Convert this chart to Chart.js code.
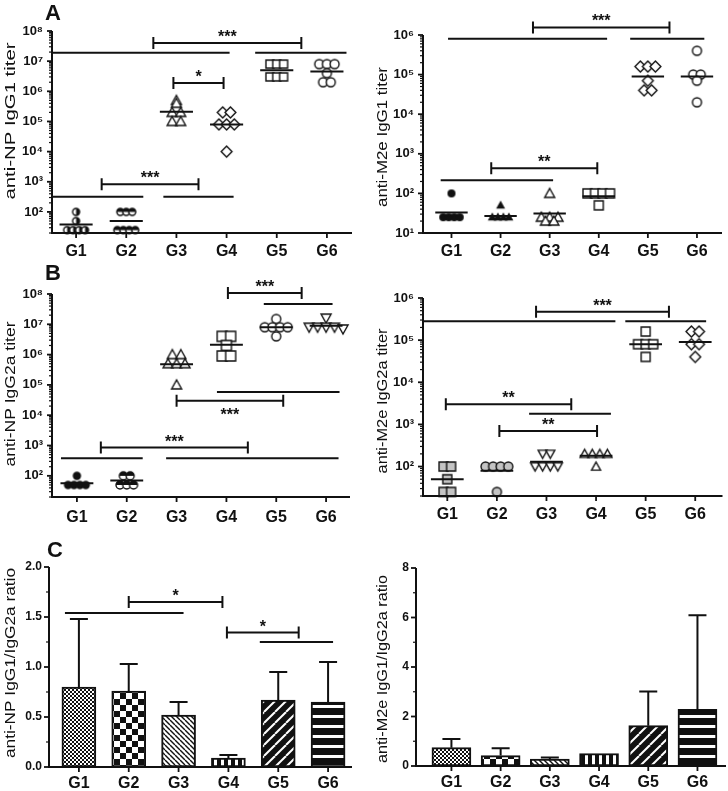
<!DOCTYPE html>
<html>
<head>
<meta charset="utf-8">
<script src="https://cdn.jsdelivr.net/npm/chart.js@4.4.1/dist/chart.umd.min.js"></script>
<style>
  body { margin: 0; background: #fff; }
  #fig { position: relative; width: 728px; height: 791px; }
  #fig canvas { position: absolute; }
</style>
</head>
<body>
<div id="fig"></div>
<script>
const groups = ['G1', 'G2', 'G3', 'G4', 'G5', 'G6'];

// A: IgG1 titers, one array per group, plus the group line
const npIgG1 = [
  [100, 50, 25, 25, 25, 25],
  [100, 100, 100, 25, 25, 25, 25],
  [500000, 400000, 200000, 200000, 100000, 100000],
  [200000, 200000, 80000, 80000, 80000, 10000],
  [8000000, 8000000, 8000000, 3000000, 3000000, 3000000],
  [8000000, 8000000, 8000000, 4000000, 2000000, 2000000]
];
const npIgG1Mean = [38, 50, 210000, 80000, 5000000, 4500000];

const m2eIgG1 = [
  [100, 25, 25, 25, 25],
  [50, 25, 25, 25, 25],
  [100, 25, 25, 25, 20, 20],
  [100, 100, 100, 100, 50],
  [160000, 160000, 160000, 70000, 40000, 40000],
  [400000, 100000, 100000, 70000, 20000]
];
const m2eIgG1Mean = [33, 27, 31, 85, 90000, 90000];

// B: IgG2a titers
const npIgG2a = [
  [100, 50, 50, 50, 50],
  [100, 100, 50, 50, 50],
  [1000000, 1000000, 500000, 500000, 500000, 100000],
  [4000000, 4000000, 2000000, 900000, 900000],
  [15000000, 8000000, 8000000, 8000000, 8000000, 4000000],
  [16000000, 8000000, 8000000, 8000000, 8000000, 7000000]
];
const npIgG2aMean = [57, 70, 480000, 2100000, 8000000, 9000000];

const m2eIgG2a = [
  [100, 100, 50, 25, 25],
  [100, 100, 100, 100, 25],
  [200, 200, 100, 100, 100, 100],
  [200, 200, 200, 200, 100],
  [160000, 80000, 80000, 80000, 40000],
  [160000, 160000, 80000, 80000, 40000]
];
const m2eIgG2aMean = [50, 80, 130, 180, 80000, 90000];

// C: IgG1/IgG2a ratio, bar height and top of the error bar
const npRatio = [0.80, 0.76, 0.52, 0.09, 0.67, 0.65];
const npRatioUpper = [1.48, 1.03, 0.65, 0.12, 0.95, 1.05];
const m2eRatio = [0.74, 0.42, 0.28, 0.50, 1.63, 2.29];
const m2eRatioUpper = [1.09, 0.72, 0.34, 0.50, 3.01, 6.09];

// significance marks: x in group units, y in axis units
const npIgG1Sig = [
  { x1: 1.54, x2: 4.49, y: 4e7, label: '***' },
  { x1: -0.48, x2: 3.06, y: 1.9e7 },
  { x1: 3.57, x2: 5.39, y: 1.9e7 },
  { x1: 1.94, x2: 2.94, y: 1.9e6, label: '*' },
  { x1: 0.51, x2: 2.44, y: 830, label: '***' },
  { x1: -0.48, x2: 1.34, y: 316 },
  { x1: 1.74, x2: 3.14, y: 316 }
];
const m2eIgG1Sig = [
  { x1: 1.66, x2: 4.44, y: 1.55e6, label: '***' },
  { x1: -0.07, x2: 3.17, y: 8e5 },
  { x1: 3.64, x2: 5.15, y: 8e5 },
  { x1: 0.81, x2: 2.97, y: 430, label: '**' },
  { x1: -0.22, x2: 2.07, y: 215 }
];
const npIgG2aSig = [
  { x1: 3.03, x2: 4.51, y: 1.07e8, label: '***' },
  { x1: 3.75, x2: 5.13, y: 4.7e7 },
  { x1: 2.0, x2: 4.14, y: 3e4, label: '***', below: true },
  { x1: 2.81, x2: 5.27, y: 5.8e4 },
  { x1: 0.48, x2: 3.43, y: 855, label: '***' },
  { x1: -0.32, x2: 1.32, y: 380 },
  { x1: 1.79, x2: 5.25, y: 380 }
];
const m2eIgG2aSig = [
  { x1: 1.79, x2: 4.47, y: 4.7e5, label: '***' },
  { x1: -0.48, x2: 3.39, y: 2.8e5 },
  { x1: 3.59, x2: 5.22, y: 2.8e5 },
  { x1: -0.03, x2: 2.5, y: 3000, label: '**' },
  { x1: 1.65, x2: 3.3, y: 1800 },
  { x1: 1.05, x2: 3.02, y: 700, label: '**' }
];
const npRatioSig = [
  { x1: 1.0, x2: 2.88, y: 1.65, label: '*' },
  { x1: -0.28, x2: 2.1, y: 1.54 },
  { x1: 2.97, x2: 4.41, y: 1.345, label: '*' },
  { x1: 3.63, x2: 5.1, y: 1.25 }
];

const logTickLabels = ['10⁰', '10¹', '10²', '10³', '10⁴', '10⁵', '10⁶', '10⁷', '10⁸'];

const family = '"Liberation Sans", Arial, Helvetica, sans-serif';
const ink = '#111';

// marker pictures for each group: shape, fill, radius
const markA1 = [['circle', 'halfRight', 3.5], ['circle', 'halfTop', 3.5], ['triangle', 'white', 5], ['diamond', 'white', 4.5], ['square', 'white', 4], ['circle', 'white', 4.5]];
const markA2 = [['circle', 'black', 3.3], ['triangle', 'black', 3.3], ['triangle', 'white', 5], ['square', 'white', 4.5], ['diamond', 'white', 4.5], ['circle', 'white', 4.5]];
const markB1 = [['circle', 'black', 3.5], ['circle', 'halfTop', 4], ['triangle', 'white', 5], ['square', 'white', 5], ['circle', 'white', 4.5], ['triangleDown', 'white', 5]];
const markB2 = [['square', 'gray', 4.5], ['circle', 'gray', 4.5], ['triangleDown', 'white', 4.5], ['triangle', 'white', 4.5], ['square', 'white', 4.5], ['diamond', 'white', 4.5]];

function makeMarker(shape, fill, r) {
  const s = Math.ceil(r * 2.4 + 4);
  const c = document.createElement('canvas');
  c.width = c.height = s;
  const g = c.getContext('2d');
  const m = s / 2;
  const path = () => {
    g.beginPath();
    if (shape === 'circle') g.arc(m, m, r, 0, Math.PI * 2);
    else if (shape === 'square') g.rect(m - r, m - r, 2 * r, 2 * r);
    else if (shape === 'diamond') {
      g.moveTo(m, m - r * 1.2); g.lineTo(m + r * 1.2, m); g.lineTo(m, m + r * 1.2); g.lineTo(m - r * 1.2, m); g.closePath();
    } else if (shape === 'triangle') {
      g.moveTo(m, m - r); g.lineTo(m + r, m + r * 0.8); g.lineTo(m - r, m + r * 0.8); g.closePath();
    } else {
      g.moveTo(m, m + r); g.lineTo(m + r, m - r * 0.8); g.lineTo(m - r, m - r * 0.8); g.closePath();
    }
  };
  path();
  g.fillStyle = fill === 'black' ? ink : fill === 'gray' ? '#c4c4c4' : '#fff';
  g.fill();
  if (fill === 'halfRight' || fill === 'halfTop') {
    g.save();
    g.clip();
    g.fillStyle = ink;
    if (fill === 'halfRight') g.fillRect(m, 0, s, s);
    else g.fillRect(0, 0, s, m);
    g.restore();
  }
  path();
  g.lineWidth = 1.4;
  g.strokeStyle = ink;
  g.stroke();
  return c;
}

function makePattern(kind) {
  const t = { mesh: 4, checker: 12, backslash: 5, vstripe: 7, slash: 11, hstripe: 10 }[kind];
  const c = document.createElement('canvas');
  c.width = c.height = t;
  const g = c.getContext('2d');
  g.fillStyle = '#fff';
  g.fillRect(0, 0, t, t);
  g.fillStyle = ink;
  g.strokeStyle = ink;
  if (kind === 'mesh') { g.fillRect(0, 0, 2, 2); g.fillRect(2, 2, 2, 2); }
  if (kind === 'checker') { g.fillRect(0, 0, 6, 6); g.fillRect(6, 6, 6, 6); }
  if (kind === 'vstripe') g.fillRect(0, 0, 4, t);
  if (kind === 'hstripe') g.fillRect(0, 3, t, 7);
  if (kind === 'backslash') {
    g.lineWidth = 1.4;
    [-t, 0, t].forEach(o => { g.beginPath(); g.moveTo(o, 0); g.lineTo(o + t, t); g.stroke(); });
  }
  if (kind === 'slash') {
    g.fillRect(0, 0, t, t);
    g.strokeStyle = '#fff';
    g.lineWidth = 2;
    [-t, 0, t].forEach(o => { g.beginPath(); g.moveTo(o, t); g.lineTo(o + t, 0); g.stroke(); });
  }
  return g.createPattern(c, 'repeat');
}
const barPatterns = ['mesh', 'checker', 'backslash', 'vstripe', 'slash', 'hstripe'].map(makePattern);

// points of equal titer sit side by side around the group centre
function spread(vals, i, r) {
  const rows = [];
  vals.slice().sort((a, b) => b - a).forEach(v => {
    const row = rows.find(rw => Math.abs(Math.log10(rw[0]) - Math.log10(v)) < 0.08);
    row ? row.push(v) : rows.push([v]);
  });
  const step = r * 1.7 / 50;
  const pts = [];
  rows.forEach(rw => rw.forEach((v, k) => pts.push({ x: i + (k - (rw.length - 1) / 2) * step, y: v })));
  return pts;
}

function addCanvas(box) {
  const cv = document.createElement('canvas');
  cv.width = box.w;
  cv.height = box.h;
  cv.style.left = box.x + 'px';
  cv.style.top = box.y + 'px';
  document.getElementById('fig').appendChild(cv);
  return cv;
}

const isDecade = v => Math.abs(Math.log10(v) - Math.round(Math.log10(v))) < 1e-6;

function logTicks(min, max) {
  const out = [];
  for (let e = Math.floor(Math.log10(min)); e <= Math.ceil(Math.log10(max)); e++) {
    for (let m = 1; m < 10; m++) {
      const v = m * Math.pow(10, e);
      if (v >= min * 0.999 && v <= max * 1.001) out.push({ value: v });
    }
  }
  return out;
}

function xAxis(p) {
  return {
    type: 'linear', min: p.xRange[0], max: p.xRange[1], offset: false,
    grid: { display: false, drawTicks: false }, border: { display: false },
    afterBuildTicks: s => { s.ticks = groups.map((g, i) => ({ value: i })); },
    ticks: {
      autoSkip: false, maxRotation: 0, padding: p.xPad, color: ink,
      font: { family, size: 16, weight: 'bold' },
      callback: v => groups[v]
    },
    afterFit: s => { s.height = p.box.y + p.box.h - p.area.bottom; }
  };
}

function yAxis(p) {
  const y = {
    min: p.yRange[0], max: p.yRange[1],
    grid: { display: false, drawTicks: false }, border: { display: false },
    ticks: { autoSkip: false, padding: p.yPad, color: ink, font: { family, size: 13, weight: 'bold' } },
    afterFit: s => { s.width = p.area.left - p.box.x; }
  };
  if (p.log) {
    y.type = 'logarithmic';
    y.afterBuildTicks = s => { s.ticks = logTicks(p.yRange[0], p.yRange[1]); };
    y.ticks.callback = v => isDecade(v) ? logTickLabels[Math.round(Math.log10(v))] : '';
  } else {
    y.type = 'linear';
    y.ticks.stepSize = p.yStep;
    y.ticks.font.size = 12;
    y.ticks.callback = v => Math.abs(v / p.yLabelStep - Math.round(v / p.yLabelStep)) < 1e-6 ? v.toFixed(p.yDigits) : '';
  }
  return y;
}

function baseOptions(p) {
  return {
    responsive: false, animation: false, events: [],
    layout: { padding: { left: 0, top: p.area.top - p.box.y, right: p.box.x + p.box.w - p.area.right, bottom: 0 } },
    plugins: { legend: { display: false }, tooltip: { enabled: false } },
    scales: { x: xAxis(p), y: yAxis(p) }
  };
}

// axes, brackets, error bars, titles
function figurePlugin(p) {
  return {
    id: 'figure',
    afterDatasetsDraw(chart) {
      if (!p.upper) return;
      const ctx = chart.ctx, ys = chart.scales.y;
      ctx.save();
      ctx.strokeStyle = ink;
      ctx.lineWidth = 2;
      chart.getDatasetMeta(0).data.forEach((bar, i) => {
        if (p.upper[i] <= p.bars[i]) return;
        const top = ys.getPixelForValue(p.upper[i]);
        ctx.beginPath();
        ctx.moveTo(bar.x, bar.y); ctx.lineTo(bar.x, top);
        ctx.moveTo(bar.x - 9, top); ctx.lineTo(bar.x + 9, top);
        ctx.stroke();
      });
      ctx.restore();
    },
    afterDraw(chart) {
      const ctx = chart.ctx, a = chart.chartArea, xs = chart.scales.x, ys = chart.scales.y;
      ctx.save();
      ctx.strokeStyle = ink;
      ctx.fillStyle = ink;
      ctx.lineWidth = 2;
      ctx.beginPath();
      ctx.moveTo(a.left, a.top); ctx.lineTo(a.left, a.bottom); ctx.lineTo(a.right, a.bottom);
      ctx.stroke();

      ys.ticks.forEach(t => {
        const py = ys.getPixelForValue(t.value);
        const major = t.label !== '';
        ctx.lineWidth = major ? 1.8 : 1.2;
        ctx.beginPath();
        ctx.moveTo(a.left, py); ctx.lineTo(a.left - (major ? 5 : 3), py);
        ctx.stroke();
      });
      ctx.lineWidth = 1.8;
      xs.ticks.forEach(t => {
        const px = xs.getPixelForValue(t.value);
        ctx.beginPath();
        ctx.moveTo(px, a.bottom); ctx.lineTo(px, a.bottom + 5);
        ctx.stroke();
      });

      ctx.lineWidth = 2;
      ctx.textAlign = 'center';
      ctx.textBaseline = 'alphabetic';
      ctx.font = 'bold 16px ' + family;
      (p.sig || []).forEach(s => {
        const x1 = xs.getPixelForValue(s.x1), x2 = xs.getPixelForValue(s.x2), py = ys.getPixelForValue(s.y);
        ctx.beginPath();
        ctx.moveTo(x1, py); ctx.lineTo(x2, py);
        if (s.label) {
          ctx.moveTo(x1, py - 6); ctx.lineTo(x1, py + 6);
          ctx.moveTo(x2, py - 6); ctx.lineTo(x2, py + 6);
        }
        ctx.stroke();
        if (s.label) ctx.fillText(s.label, (x1 + x2) / 2, s.below ? py + 19 : py - 1);
      });

      if (p.letter) {
        ctx.textAlign = 'left';
        ctx.font = 'bold 22px ' + family;
        ctx.fillText(p.letter[0], p.letter[1] - p.box.x, p.letter[2] - p.box.y);
      }

      const [tx, ty, len] = p.titlePos;
      ctx.translate(tx - p.box.x, ty - p.box.y);
      ctx.rotate(-Math.PI / 2);
      ctx.font = '14px ' + family;
      ctx.scale(len / ctx.measureText(p.title).width, 1);
      ctx.textAlign = 'center';
      ctx.textBaseline = 'middle';
      ctx.fillText(p.title, 0, 0);
      ctx.restore();
    }
  };
}

function buildScatter(p, values, means, markers) {
  const datasets = [];
  means.forEach((m, i) => datasets.push({
    data: [{ x: i - 0.33, y: m }, { x: i + 0.33, y: m }],
    showLine: true, borderColor: ink, borderWidth: 2, pointRadius: 0, clip: false
  }));
  values.forEach((vals, i) => {
    const [shape, fill, r] = markers[i];
    datasets.push({
      data: spread(vals, i, r),
      pointStyle: makeMarker(shape, fill, r),
      pointRadius: r, clip: false
    });
  });
  new Chart(addCanvas(p.box), {
    type: 'scatter',
    data: { datasets },
    options: baseOptions(p),
    plugins: [figurePlugin(p)]
  });
}

function buildBars(p, means, upper) {
  p.bars = means;
  p.upper = upper;
  new Chart(addCanvas(p.box), {
    type: 'bar',
    data: {
      datasets: [{
        data: means.map((v, i) => ({ x: i, y: v })),
        backgroundColor: barPatterns, borderColor: ink, borderWidth: 2,
        borderSkipped: false, barThickness: p.barWidth
      }]
    },
    options: baseOptions(p),
    plugins: [figurePlugin(p)]
  });
}

// A, left
buildScatter({
  box: { x: 0, y: 0, w: 364, h: 262 }, area: { left: 52, top: 31, right: 352, bottom: 233 },
  xRange: [-0.48, 5.5], yRange: [20, 1e8], log: true, xPad: 9, yPad: 9,
  title: 'anti-NP IgG1 titer', titlePos: [11, 121, 157], letter: ['A', 45, 20], sig: npIgG1Sig
}, npIgG1, npIgG1Mean, markA1);

// A, right
buildScatter({
  box: { x: 364, y: 0, w: 364, h: 262 }, area: { left: 423, top: 35, right: 726, bottom: 233 },
  xRange: [-0.58, 5.51], yRange: [10, 1e6], log: true, xPad: 9, yPad: 9,
  title: 'anti-M2e IgG1 titer', titlePos: [383, 137, 140], sig: m2eIgG1Sig
}, m2eIgG1, m2eIgG1Mean, markA2);

// B, left
buildScatter({
  box: { x: 0, y: 262, w: 364, h: 263 }, area: { left: 52, top: 294, right: 350, bottom: 497 },
  xRange: [-0.5, 5.48], yRange: [20, 1e8], log: true, xPad: 11, yPad: 9,
  title: 'anti-NP IgG2a titer', titlePos: [11, 394, 145], letter: ['B', 45, 280], sig: npIgG2aSig
}, npIgG2a, npIgG2aMean, markB1);

// B, right
buildScatter({
  box: { x: 364, y: 262, w: 364, h: 263 }, area: { left: 423, top: 298, right: 726, bottom: 496 },
  xRange: [-0.49, 5.55], yRange: [20, 1e6], log: true, xPad: 9, yPad: 9,
  title: 'anti-M2e IgG2a titer', titlePos: [383, 401, 145], sig: m2eIgG2aSig
}, m2eIgG2a, m2eIgG2aMean, markB2);

// C, left
buildBars({
  box: { x: 0, y: 525, w: 364, h: 266 }, area: { left: 49, top: 567, right: 352, bottom: 767 },
  xRange: [-0.6, 5.48], yRange: [0, 2], yStep: 0.25, yLabelStep: 0.5, yDigits: 1, xPad: 7, yPad: 7,
  barWidth: 34, title: 'anti-NP IgG1/IgG2a ratio', titlePos: [11, 663, 190], letter: ['C', 47, 557], sig: npRatioSig
}, npRatio, npRatioUpper);

// C, right
buildBars({
  box: { x: 364, y: 525, w: 364, h: 266 }, area: { left: 416, top: 568, right: 726, bottom: 766 },
  xRange: [-0.72, 5.58], yRange: [0, 8], yStep: 1, yLabelStep: 2, yDigits: 0, xPad: 7, yPad: 7,
  barWidth: 39, title: 'anti-M2e IgG1/IgG2a ratio', titlePos: [383, 669, 188]
}, m2eRatio, m2eRatioUpper);
</script>
</body>
</html>
